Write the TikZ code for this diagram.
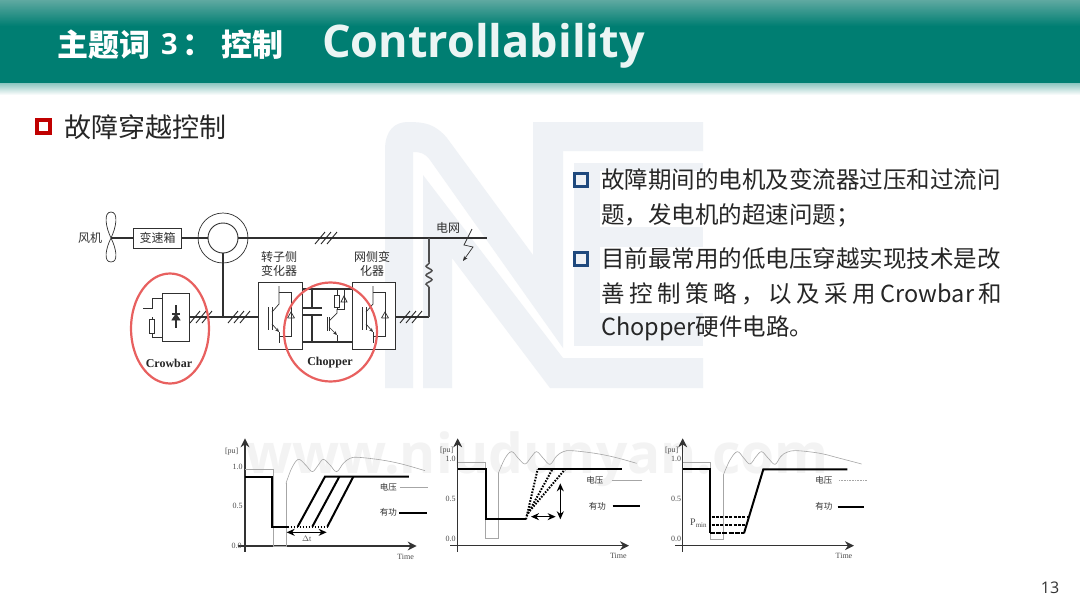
\documentclass[tikz,border=0pt]{standalone}
\usepackage{fontspec}
\setmainfont{Open Sans}
\newfontfamily\cjk{Noto Sans CJK SC}
\newfontfamily\serifb{Liberation Serif}
\usetikzlibrary{arrows.meta,decorations.pathmorphing}
\definecolor{headteal}{HTML}{007E72}
\definecolor{headlight}{HTML}{5FA9A1}
\definecolor{markred}{HTML}{C00000}
\definecolor{markblue}{HTML}{1F497D}
\definecolor{markpale}{HTML}{EFF2F6}
\definecolor{wwwgray}{HTML}{F3F3F3}
\definecolor{ringred}{HTML}{E8605F}
\definecolor{circuitgray}{HTML}{303030}
\newcommand{\fsize}[1]{\fontsize{#1}{#1}\selectfont}
\tikzset{
    wire/.style={draw=circuitgray, line width=1.1pt},
    thinwire/.style={draw=circuitgray, line width=0.7pt},
    gridwire/.style={draw=circuitgray!85, line width=1.5pt},
    boxpart/.style={draw=circuitgray, line width=1pt, fill=white, inner sep=0pt},
    circlabel/.style={text=circuitgray, font=\cjk\fsize{12}, inner sep=0pt, align=center},
    boldlabel/.style={text=black!85, font=\serifb\bfseries\fsize{12}, inner sep=0pt},
    redring/.style={draw=ringred, line width=2.2pt},
    bullettext/.style={anchor=west, inner sep=0pt, text=black!85, font=\cjk\fsize{23.5}},
    axisline/.style={draw=black!80, line width=1.2pt, -{Stealth[length=9pt,width=9pt]}},
    voltline/.style={draw=black!35, line width=0.6pt},
    powerline/.style={draw=black, line width=2pt},
    dotline/.style={draw=black, line width=2pt, dash pattern=on 1.6pt off 1.4pt},
    sizearrow/.style={draw=black, line width=1.3pt, {Stealth[length=8pt,width=7pt]}-{Stealth[length=8pt,width=7pt]}},
    chartlabel/.style={text=black!70, font=\serifb\fsize{8}, inner sep=0pt},
    chartcjk/.style={text=black!80, font=\cjk\fsize{8.5}, inner sep=0pt},
    igbtcell/.pic={
        \draw[thinwire] (10,25) -- (10,48);
        \draw[thinwire] (14,25) -- (14,48);
        \draw[thinwire] (14,30) -- (21,22) -- (21,4);
        \draw[thinwire] (21,10) -- (33,10) -- (33,54) -- (21,54);
        \draw[thinwire, -{Stealth[length=4pt,width=3.5pt]}] (14,42) -- (21,50);
        \draw[thinwire] (21,50) -- (21,61);
        \draw[thinwire] (29.5,36) -- (36.5,36) (29.5,36) -- (33,30) -- (36.5,36);
    },
    hashmark/.pic={
        \foreach \dx in {-6,0,6}
            \draw[line width=0.9pt, draw=black!85] (\dx-5,6) -- (\dx+5,-6);
    }
}
\begin{document}
\begin{tikzpicture}[x=1pt,y=-1pt]
\useasboundingbox (0,0) rectangle (1080,608);
\fill[white] (0,0) rectangle (1080,608);

% watermark
\fill[markpale] (385,388) -- (385,150) .. controls (385,130) and (395,122) .. (408,122)
    .. controls (425,122) and (435,124) .. (447,138) -- (533,255) -- (533,122) -- (703,122) -- (703,151)
    -- (563,151) -- (563,348) -- (430,160) .. controls (425,153) and (420,152) .. (413,152) -- (413,388) -- cycle;
\fill[markpale] (423,175) -- (563,358) -- (703,358) -- (703,388) -- (550,388) -- (452,258) -- (452,388) -- (423,388) -- cycle;
\fill[markpale] (574,163) rectangle (703,346);
\fill[white] (600,171) rectangle (703,227);
\fill[white] (600,247) rectangle (703,313);
\node[text=wwwgray, anchor=base, font=\bfseries\fsize{55}, inner sep=0pt] (wwwmark) at (537,473) {www.niudunyan.com};

% header band
\shade[top color=headlight, bottom color=headteal] (0,0) rectangle (1080,26);
\fill[headteal] (0,26) rectangle (1080,83);
\shade[top color=headteal!45!white, bottom color=white] (0,83) rectangle (1080,95);
\node[anchor=west, inner sep=0pt, text=white, font=\cjk\bfseries\fsize{31}] (titlecn) at (57,45) {主题词};
\node[anchor=west, inner sep=0pt, text=white, font=\bfseries\fsize{29}] (titlenum) at (161,44) {3};
\node[anchor=west, inner sep=0pt, text=white, font=\cjk\bfseries\fsize{31}] (titlecolon) at (182,45) {：};
\node[anchor=west, inner sep=0pt, text=white, font=\cjk\bfseries\fsize{31}] (titlectrl) at (221,45) {控制};
\node[anchor=base west, inner sep=0pt, text=headteal!8!white, font=\bfseries\fsize{45}] (titleen) at (322,57) {Controllability};

% section heading
\draw[markred, line width=3.6pt] (36.8,119.8) rectangle (50.2,133.2);
\node[anchor=west, inner sep=0pt, text=black!85, font=\cjk\fsize{27}] (heading) at (64,127) {故障穿越控制};

% right text
\draw[markblue, line width=3pt] (574.5,173.5) rectangle (587.5,186.5);
\draw[markblue, line width=3pt] (574.5,252.5) rectangle (587.5,265.5);
\node[bullettext] (lineone) at (601,180) {故障期间的电机及变流器过压和过流问};
\node[bullettext] (linetwo) at (601,215) {题，发电机的超速问题；};
\node[bullettext] (linethree) at (601,259) {目前最常用的低电压穿越实现技术是改};
\node[bullettext] (linefour) at (601,294) {\makebox[401pt][s]{善\hfill 控\hfill 制\hfill 策\hfill 略\hfill ，\hfill 以\hfill 及\hfill 采\hfill 用\hfill Crowbar\hfill 和}};
\node[bullettext] (linefive) at (601,328) {Chopper硬件电路。};

% circuit blocks
\node[circlabel] (fanlabel) at (90,238) {风机};
\coordinate (fanhub) at (111,238);
\draw[thinwire] (fanhub) .. controls (106,228) and (103,212) .. (111,212) .. controls (119,212) and (116,228) .. (fanhub)
    .. controls (106,248) and (103,262) .. (111,262) .. controls (119,262) and (116,248) .. (fanhub);
\node[boxpart, minimum width=48pt, minimum height=20pt] (gearbox) at (157.5,238) {\cjk\fsize{12}\color{circuitgray}变速箱};
\node[circle, draw=circuitgray, line width=0.7pt, minimum size=50pt, inner sep=0pt] (statorring) at (223,238) {};
\node[circle, draw=circuitgray, line width=0.9pt, minimum size=30pt, inner sep=0pt, fill=none] (rotorring) at (223,238) {};
\coordinate (busend) at (487,238);
\coordinate (dcjoint) at (223,317);
\coordinate (gridjoint) at (429,238);
\coordinate (gridcorner) at (429,317);
\node[boxpart, minimum width=27pt, minimum height=48pt] (crowbarbox) at (175.5,317) {};
\node[boxpart, minimum width=44pt, minimum height=67pt] (rotorconv) at (280,315.5) {};
\node[boxpart, minimum width=43pt, minimum height=67pt] (gridconv) at (373.5,315.5) {};
\pic at (258,282) {igbtcell};
\pic at (352,282) {igbtcell};

% connectors
\draw[wire] (fanhub) -- (gearbox.west);
\draw[wire] (gearbox.east) -- (rotorring.west);
\draw[wire] (rotorring.east) -- (busend);
\draw[wire] (rotorring.south) -- (dcjoint);
\draw[wire] (crowbarbox.east) -- (dcjoint) -- (dcjoint -| rotorconv.west);
\draw[wire] (gridconv.east |- gridcorner) -- (gridcorner);
\draw[gridwire] (gridcorner) -- (429,287);
\draw[gridwire, decorate, decoration={snake, amplitude=3pt, segment length=9pt}] (429,287) -- (429,262);
\draw[gridwire] (429,262) -- (gridjoint);
\draw[wire] (302,289) -- (352,289);
\draw[wire] (302,342) -- (352,342);
\pic at (201,317) {hashmark};
\pic at (239,317) {hashmark};
\pic at (326,238) {hashmark};
\pic at (411,317) {hashmark};

% crowbar inside
\draw[thinwire] (crowbarbox.west |- 0,298) -- (152,298) -- (152,308) -- (143,308);
\draw[thinwire] (152,333) -- (152,337) -- (crowbarbox.west |- 0,337);
\draw[thinwire] (149,319) rectangle (154.5,333);
\draw[thinwire] (152,317) -- (152,319);
\draw[wire] (176,305) -- (176,328);
\draw[thinwire, fill=circuitgray] (172,320) -- (180,320) -- (176,314) -- cycle;
\draw[wire] (172,314) -- (180,314);

% chopper inside
\draw[wire] (312,289) -- (312,308);
\draw[wire] (312,315) -- (312,342);
\draw[line width=1.4pt, draw=circuitgray] (303,308) -- (322,308) (303,315) -- (322,315);
\draw[thinwire] (337,289) -- (337,295);
\draw[thinwire] (334,295) rectangle (339.5,307);
\draw[thinwire] (337,307) -- (337,309) -- (344,309) -- (344,289);
\draw[thinwire] (341,302) -- (347,302) -- (344,296) -- cycle;
\draw[thinwire] (337,309) -- (337,313) -- (329,321);
\draw[thinwire] (327,317) -- (327,331);
\draw[thinwire] (329,317) -- (329,331);
\draw[thinwire, -{Stealth[length=4pt,width=3.5pt]}] (329,327) -- (337,335);
\draw[thinwire] (337,335) -- (337,342);

% fault arrow
\draw[thinwire, -{Stealth[length=5pt,width=4pt]}] (472,229) -- (464,245) -- (473,247) -- (463,261);

% circuit labels
\node[circlabel] (rotorlabel) at (279,264) {转子侧\\[2pt]变化器};
\node[circlabel] (gridlabel) at (372,264) {网侧变\\[2pt]化器};
\node[circlabel] (busb) at (448,228) {电网};
\node[boldlabel] (crowbarlabel) at (169,363) {Crowbar};
\node[boldlabel] (chopperlabel) at (330,363) {Chopper};
\draw[redring] (170,328.5) ellipse (39 and 55);
\draw[redring] (330.5,332) ellipse (46.5 and 49.5);

% chart one
\begin{scope}[shift={(215,430)}, scale=0.3333]
\draw[axisline] (90,365) -- (90,25);
\draw[axisline] (70,348) -- (605,348);
\draw[voltline] (90,118) -- (175,118) -- (175,348) -- (213,348) -- (213,160);
\draw[voltline] plot[smooth, tension=0.6] coordinates {(213,160) (230,115) (250,88) (272,105) (292,125) (310,105) (325,88) (345,105) (365,125) (385,100) (405,85) (430,82) (500,90) (560,102) (630,122)};
\draw[powerline] (90,140) -- (172,140) -- (172,290) -- (218,290);
\draw[dotline] (218,290) -- (337,290);
\draw[powerline] (248,290) -- (330,140) -- (582,140);
\draw[powerline] (292,290) -- (373,140);
\draw[powerline] (337,290) -- (415,140);
\draw[sizearrow] (215,307) -- (335,307);
\node[chartlabel] (dtlabel) at (275,325) {$\Delta$t};
\node[chartlabel] (pua) at (50,65) {[pu]};
\node[chartlabel] (onea) at (68,110) {1.0};
\node[chartlabel] (halfa) at (68,228) {0.5};
\node[chartlabel] (zeroa) at (65,347) {0.0};
\node[chartlabel] (timea) at (572,380) {Time};
\node[chartcjk] (volta) at (520,172) {电压};
\node[chartcjk] (powera) at (520,248) {有功};
\draw[voltline] (555,172) -- (638,172);
\draw[powerline] (553,248) -- (635,248);
\end{scope}

% chart two
\begin{scope}[shift={(435,430)}, scale=0.3333]
\draw[axisline] (68,365) -- (68,25);
\draw[axisline] (45,347) -- (582,347);
\draw[voltline] (68,98) -- (150,98) -- (150,325) -- (190,325) -- (190,130);
\draw[voltline] plot[smooth, tension=0.6] coordinates {(190,130) (210,85) (230,65) (250,85) (270,102) (288,82) (305,65) (325,85) (345,103) (365,78) (385,65) (410,62) (480,70) (540,82) (605,100)};
\draw[powerline] (68,118) -- (152,118) -- (152,268) -- (273,268);
\draw[powerline] (308,118) -- (562,118);
\draw[dotline] (273,268) -- (308,118);
\draw[dotline] (275,258) -- (352,118);
\draw[dotline] (278,250) -- (390,118);
\draw[sizearrow] (288,260) -- (362,260);
\draw[sizearrow] (376,160) -- (376,268);
\node[chartlabel] (pub) at (35,62) {[pu]};
\node[chartlabel] (oneb) at (47,88) {1.0};
\node[chartlabel] (halfb) at (47,207) {0.5};
\node[chartlabel] (zerob) at (47,327) {0.0};
\node[chartlabel] (timeb) at (550,377) {Time};
\node[chartcjk] (voltb) at (480,152) {电压};
\node[chartcjk] (powerb) at (487,228) {有功};
\draw[voltline] (530,152) -- (620,152);
\draw[powerline] (533,228) -- (615,228);
\end{scope}

% chart three
\begin{scope}[shift={(650,430)}, scale=0.3333]
\draw[axisline] (98,365) -- (98,25);
\draw[axisline] (75,347) -- (612,347);
\draw[voltline] (98,98) -- (180,98) -- (180,328) -- (220,328) -- (220,135);
\draw[voltline] plot[smooth, tension=0.6] coordinates {(220,135) (240,90) (262,65) (282,85) (300,102) (318,80) (335,65) (355,85) (375,103) (392,80) (410,67) (440,62) (510,70) (570,85) (635,102)};
\draw[powerline] (98,118) -- (180,118) -- (180,310);
\draw[powerline, dash pattern=on 5pt off 1.2pt] (180,310) -- (282,310);
\draw[powerline] (282,310) -- (340,118) -- (592,118);
\draw[dotline, dash pattern=on 3pt off 1.4pt] (185,260) -- (292,260);
\draw[dotline, dash pattern=on 3pt off 1.4pt] (185,285) -- (285,285);
\node[chartlabel, font=\serifb\fsize{10}] (pminlabel) at (146,280) {P\textsubscript{min}};
\node[chartlabel] (puc) at (65,62) {[pu]};
\node[chartlabel] (onec) at (78,88) {1.0};
\node[chartlabel] (halfc) at (78,207) {0.5};
\node[chartlabel] (zeroc) at (78,327) {0.0};
\node[chartlabel] (timec) at (582,377) {Time};
\node[chartcjk] (voltc) at (522,152) {电压};
\node[chartcjk] (powerc) at (522,230) {有功};
\draw[voltline, dash pattern=on 1pt off 0.6pt] (567,152) -- (650,152);
\draw[powerline] (563,230) -- (643,230);
\end{scope}

\node[text=black!80, font=\fsize{16}, inner sep=0pt] (pagenum) at (1050,588) {13};
\end{tikzpicture}
\end{document}
